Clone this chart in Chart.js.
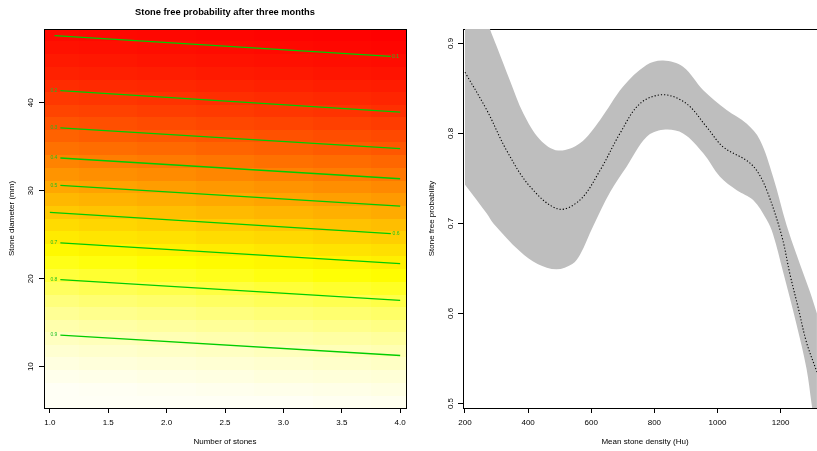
<!DOCTYPE html>
<html><head><meta charset="utf-8">
<script src="https://cdn.jsdelivr.net/npm/chart.js@4/dist/chart.umd.min.js"></script>
<style>
html,body{margin:0;padding:0;background:#fff;}
#wrap{position:relative;width:817px;height:451px;overflow:hidden;background:#fff;}
#c1{position:absolute;left:0;top:0;width:420px;height:451px;}
#c2{position:absolute;left:420px;top:0;width:407px;height:451px;}
</style></head><body>
<div id="wrap"><canvas id="c1" width="420" height="451"></canvas><canvas id="c2" width="407" height="451"></canvas></div>
<script>
// ---------- left panel data ----------
const mainTitle = 'Stone free probability after three months';
const stoneTicks = [1.0, 1.5, 2.0, 2.5, 3.0, 3.5, 4.0];
const diamTicks = [10, 20, 30, 40];
// heat map: column centres (number of stones), row centres (diameter, mm)
const heatStones = [1.0, 1.5, 2.0, 2.5, 3.0, 3.5, 4.0];
const heatDiam = [6.0, 7.4, 8.9, 10.3, 11.8, 13.2, 14.6, 16.1, 17.5, 18.9, 20.4, 21.8, 23.3, 24.7, 26.1,
                  27.6, 29.0, 30.4, 31.9, 33.3, 34.8, 36.2, 37.6, 39.1, 40.5, 41.9, 43.4, 44.8, 46.3, 47.7];
// estimated stone-free probability per cell (rows bottom -> top, columns left -> right)
const heatProb = [
 [0.960,0.958,0.956,0.954,0.951,0.948,0.946],
 [0.953,0.950,0.947,0.944,0.942,0.939,0.936],
 [0.943,0.940,0.937,0.934,0.930,0.927,0.924],
 [0.933,0.929,0.925,0.922,0.918,0.914,0.910],
 [0.920,0.916,0.911,0.907,0.902,0.898,0.893],
 [0.905,0.900,0.895,0.890,0.885,0.880,0.875],
 [0.888,0.882,0.876,0.871,0.865,0.859,0.853],
 [0.868,0.861,0.855,0.848,0.841,0.835,0.828],
 [0.846,0.838,0.831,0.823,0.815,0.808,0.800],
 [0.821,0.812,0.804,0.795,0.787,0.778,0.770],
 [0.790,0.781,0.771,0.762,0.753,0.743,0.734],
 [0.759,0.749,0.738,0.728,0.718,0.707,0.697],
 [0.722,0.711,0.700,0.689,0.677,0.666,0.655],
 [0.684,0.672,0.660,0.648,0.637,0.625,0.613],
 [0.644,0.631,0.619,0.606,0.594,0.581,0.569],
 [0.598,0.585,0.572,0.560,0.547,0.534,0.521],
 [0.554,0.541,0.528,0.515,0.502,0.489,0.476],
 [0.509,0.496,0.483,0.470,0.457,0.444,0.431],
 [0.461,0.448,0.436,0.423,0.410,0.398,0.385],
 [0.416,0.404,0.392,0.380,0.367,0.355,0.343],
 [0.370,0.359,0.347,0.336,0.324,0.313,0.301],
 [0.329,0.318,0.307,0.297,0.286,0.275,0.264],
 [0.291,0.281,0.271,0.261,0.251,0.241,0.231],
 [0.252,0.243,0.234,0.225,0.216,0.207,0.198],
 [0.220,0.212,0.204,0.196,0.187,0.179,0.171],
 [0.190,0.183,0.176,0.169,0.161,0.154,0.147],
 [0.162,0.156,0.150,0.143,0.137,0.130,0.124],
 [0.139,0.134,0.128,0.123,0.117,0.112,0.106],
 [0.118,0.113,0.108,0.104,0.099,0.094,0.089],
 [0.100,0.096,0.092,0.088,0.083,0.079,0.075]
];
const colorMin = 0.075, colorMax = 0.96;
// contour lines (segment endpoints)
const contourLevels = ['0.1','0.2','0.3','0.4','0.5','0.6','0.7','0.8','0.9'];
const contourX0 = [1.04, 1.09, 1.09, 1.09, 1.09, 1.00, 1.09, 1.09, 1.09];
const contourD0 = [47.64, 41.40, 37.15, 33.73, 30.62, 27.54, 24.07, 19.90, 13.58];
const contourX1 = [3.92, 4.00, 4.00, 4.00, 4.00, 3.92, 4.00, 4.00, 4.00];
const contourD1 = [45.28, 38.94, 34.79, 31.37, 28.26, 25.14, 21.72, 17.54, 11.27];
const contourLabelX = [3.96, 1.035, 1.035, 1.035, 1.035, 3.965, 1.035, 1.035, 1.035];
const contourLabelD = [45.28, 41.43, 37.17, 33.75, 30.63, 25.12, 24.09, 19.90, 13.60];

// ---------- right panel data ----------
const densityTicks = [200, 400, 600, 800, 1000, 1200];
const probTicks = [0.5, 0.6, 0.7, 0.8, 0.9];
const meanX = [200, 269, 332, 406, 496, 564, 628, 691, 754, 828, 902, 966, 1018, 1092, 1124, 1156, 1203, 1230, 1256, 1282, 1315];
const meanP = [0.868, 0.826, 0.781, 0.741, 0.716, 0.726, 0.759, 0.800, 0.833, 0.843, 0.833, 0.807, 0.785, 0.770, 0.759, 0.737, 0.687, 0.643, 0.606, 0.568, 0.535];
const upperX = [200, 240, 279, 300, 342, 385, 438, 495, 564, 628, 701, 775, 828, 891, 955, 1029, 1092, 1134, 1176, 1219, 1251, 1293, 1315];
const upperP = [0.995, 0.955, 0.916, 0.897, 0.859, 0.822, 0.793, 0.781, 0.789, 0.815, 0.852, 0.876, 0.881, 0.874, 0.848, 0.826, 0.811, 0.793, 0.752, 0.698, 0.665, 0.624, 0.600];
const lowerX = [200, 269, 290, 374, 430, 490, 540, 564, 606, 660, 712, 775, 828, 891, 955, 1008, 1061, 1113, 1156, 1176, 1208, 1251, 1282, 1298, 1315];
const lowerP = [0.743, 0.711, 0.700, 0.669, 0.655, 0.649, 0.655, 0.665, 0.697, 0.735, 0.763, 0.796, 0.804, 0.800, 0.778, 0.752, 0.737, 0.726, 0.704, 0.688, 0.646, 0.587, 0.539, 0.500, 0.455];

// ---------- styling ----------
const FONT = "'Liberation Sans', Arial, Helvetica, sans-serif";
Chart.defaults.font.family = FONT;
Chart.defaults.color = '#000';

function heatColor(p){
  let t = (p - colorMin) / (colorMax - colorMin);
  t = Math.min(1, Math.max(0, t));
  if (t < 0.75) return 'hsl(' + (t / 0.75 * 60).toFixed(2) + ',100%,50%)';
  const s = Math.max(0.04, 1 - (t - 0.75) / 0.25);
  return 'rgb(255,255,' + Math.round(255 * (1 - s)) + ')';
}
function edges(arr){
  const e = [arr[0] - (arr[1] - arr[0]) / 2];
  for (let i = 1; i < arr.length; i++) e.push((arr[i - 1] + arr[i]) / 2);
  e.push(arr[arr.length - 1] + (arr[arr.length - 1] - arr[arr.length - 2]) / 2);
  return e;
}
const heatPlugin = {
  id: 'heat',
  beforeDatasetsDraw(chart){
    const {ctx, chartArea: a, scales: {x, y}} = chart;
    ctx.save();
    ctx.beginPath(); ctx.rect(a.left, a.top, a.right - a.left, a.bottom - a.top); ctx.clip();
    const ex = edges(heatStones), ey = edges(heatDiam);
    for (let r = 0; r < heatDiam.length; r++){
      const yt = Math.round(y.getPixelForValue(ey[r + 1])), yb = Math.round(y.getPixelForValue(ey[r]));
      for (let c = 0; c < heatStones.length; c++){
        const x0 = Math.round(x.getPixelForValue(ex[c])), x1 = Math.round(x.getPixelForValue(ex[c + 1]));
        ctx.fillStyle = heatColor(heatProb[r][c]);
        ctx.fillRect(x0, yt, x1 - x0, yb - yt);
      }
    }
    ctx.restore();
  },
  afterDatasetsDraw(chart){
    const {ctx, chartArea: a, scales: {x, y}} = chart;
    ctx.save();
    ctx.font = '5px ' + FONT;
    ctx.fillStyle = '#22c022';
    ctx.textAlign = 'center'; ctx.textBaseline = 'middle';
    contourLevels.forEach((lv, i) => {
      ctx.fillText(lv, x.getPixelForValue(contourLabelX[i]), y.getPixelForValue(contourLabelD[i]));
    });
    ctx.strokeStyle = '#000'; ctx.lineWidth = 1;
    const L = Math.floor(a.left) + 0.5, T = Math.floor(a.top) + 0.5, R = Math.floor(a.right) + 0.5, B = Math.floor(a.bottom) + 0.5;
    ctx.strokeRect(L, T, R - L, B - T);
    ctx.restore();
  }
};
const topLinePlugin = {
  id: 'topline',
  beforeDatasetsDraw(chart){
    const {ctx, chartArea: a} = chart;
    ctx.save(); ctx.strokeStyle = '#000'; ctx.lineWidth = 1;
    const T = Math.floor(a.top) + 0.5;
    ctx.beginPath(); ctx.moveTo(a.left, T); ctx.lineTo(a.right, T); ctx.stroke();
    ctx.restore();
  }
};

const axisCommon = (extra) => Object.assign({
  type: 'linear',
  grid: {drawOnChartArea: false, drawTicks: true, tickLength: 5, color: '#000', lineWidth: 1},
  border: {display: true, color: '#000', width: 1}
}, extra);

// ---------- left chart ----------
new Chart(document.getElementById('c1'), {
  type: 'scatter',
  data: {
    datasets: contourLevels.map((lv, i) => ({
      label: 'p = ' + lv,
      data: [{x: contourX0[i], y: contourD0[i]}, {x: contourX1[i], y: contourD1[i]}],
      showLine: true, borderColor: '#00cc00', borderWidth: 1.3, pointRadius: 0, fill: false
    }))
  },
  options: {
    responsive: false, animation: false, events: [],
    layout: {padding: {left: 0, right: 14, top: 0, bottom: 0}},
    plugins: {
      legend: {display: false}, tooltip: {enabled: false},
      title: {display: true, text: mainTitle, fullSize: false, color: '#000',
              font: {size: 9.3, weight: 'bold', family: FONT}, padding: {top: 6.5, bottom: 11.34}}
    },
    scales: {
      x: axisCommon({
        min: 0.95, max: 4.05,
        afterBuildTicks: s => { s.ticks = stoneTicks.map(v => ({value: v})); },
        afterFit: s => { s.height = 43; },
        ticks: {callback: v => Number(v).toFixed(1), font: {size: 8}, padding: 4.5, maxRotation: 0, autoSkip: false},
        title: {display: true, text: 'Number of stones', font: {size: 8}, padding: {top: 0, bottom: 4.7}}
      }),
      y: axisCommon({
        min: 5.3, max: 48.4,
        afterBuildTicks: s => { s.ticks = diamTicks.map(v => ({value: v})); },
        afterFit: s => { s.width = 44; },
        ticks: {callback: v => String(v), font: {size: 8}, padding: 3.5, minRotation: 90, maxRotation: 90, crossAlign: 'center', autoSkip: false},
        title: {display: true, text: 'Stone diameter (mm)', font: {size: 8}, padding: {top: 6.7, bottom: 0}}
      })
    }
  },
  plugins: [heatPlugin]
});

// ---------- right chart ----------
const pts = (xs, ys) => xs.map((v, i) => ({x: v, y: ys[i]}));
new Chart(document.getElementById('c2'), {
  type: 'scatter',
  data: {
    datasets: [
      {label: 'lower', data: pts(lowerX, lowerP), showLine: true, borderColor: 'rgba(0,0,0,0)', borderWidth: 1,
       pointRadius: 0, fill: false, tension: 0.35, order: 2},
      {label: 'upper', data: pts(upperX, upperP), showLine: true, borderColor: 'rgba(0,0,0,0)', borderWidth: 1,
       pointRadius: 0, fill: {target: 0}, backgroundColor: '#bebebe', tension: 0.35, order: 1},
      {label: 'Stone free probability', data: pts(meanX, meanP), showLine: true, borderColor: '#000', borderWidth: 1.1,
       borderDash: [1.2, 2], pointRadius: 0, fill: false, tension: 0.35, order: 0}
    ]
  },
  options: {
    responsive: false, animation: false, events: [],
    layout: {padding: {left: 0, right: 0, top: 29, bottom: 0}},
    plugins: {legend: {display: false}, tooltip: {enabled: false}, title: {display: false},
              filler: {drawTime: 'beforeDatasetDraw'}},
    scales: {
      x: axisCommon({
        min: 193.7, max: 1347,
        afterBuildTicks: s => { s.ticks = densityTicks.map(v => ({value: v})); },
        afterFit: s => { s.height = 43; },
        ticks: {callback: v => String(v), font: {size: 8}, padding: 4.5, maxRotation: 0, autoSkip: false},
        title: {display: true, text: 'Mean stone density (Hu)', font: {size: 8}, padding: {top: 0, bottom: 4.7}}
      }),
      y: axisCommon({
        min: 0.495, max: 0.916,
        afterBuildTicks: s => { s.ticks = probTicks.map(v => ({value: v})); },
        afterFit: s => { s.width = 43; },
        ticks: {callback: v => Number(v).toFixed(1), font: {size: 8}, padding: 1.7, minRotation: 90, maxRotation: 90, crossAlign: 'center', autoSkip: false},
        title: {display: true, text: 'Stone free probability', font: {size: 8}, padding: {top: 6.7, bottom: 0}}
      })
    }
  },
  plugins: [topLinePlugin]
});
</script>
</body></html>
